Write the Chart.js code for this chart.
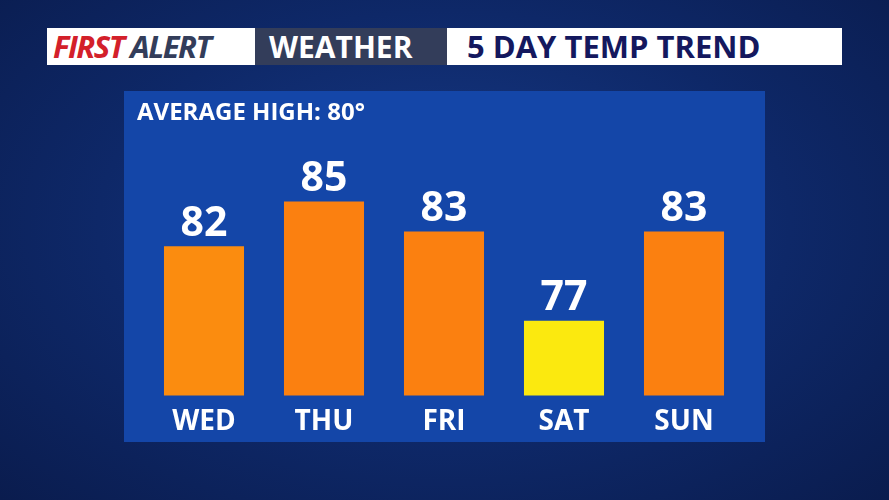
<!DOCTYPE html>
<html>
<head>
<meta charset="utf-8">
<script src="https://cdn.jsdelivr.net/npm/chart.js@4"></script>
<style>
  body { margin: 0; width: 889px; height: 500px; overflow: hidden; font-family: "Open Sans", sans-serif;
    background: radial-gradient(ellipse at 50% 45%, #173a88 0%, #0e2868 55%, #0a1c4e 100%); position: relative; }
  .hdr { position: absolute; top: 28px; height: 37px; font-weight: bold; font-size: 30px; line-height: 37px; box-sizing: border-box; white-space: nowrap; }
  #panel { position: absolute; left: 124px; top: 91px; width: 641px; height: 351px; background: #1446a8; }
  #avg { position: absolute; left: 137px; top: 94px; color: #fff; font-weight: bold; font-size: 24px; }
</style>
</head>
<body>
<div class="hdr" style="left:47px;width:208px;background:#fff;font-style:italic;letter-spacing:-1.5px;padding-left:6px;font-size:31px">
  <span style="color:#d3202a">FIRST</span><span style="color:#333d5a"> ALERT</span></div>
<div class="hdr" style="left:255px;width:192px;background:#333d5a;color:#fff;padding-left:14px">WEATHER</div>
<div class="hdr" style="left:447px;width:395px;background:#fff;color:#14185e;padding-left:20px;font-size:31px">5 DAY TEMP TREND</div>
<div id="panel"><canvas id="c" width="641" height="351"></canvas></div>
<div id="avg">AVERAGE HIGH: 80°</div>
<script>
const days = ['WED', 'THU', 'FRI', 'SAT', 'SUN'];
const highs = [82, 85, 83, 77, 83];
const barColors = ['#fb8c0f', '#fb8010', '#fb8010', '#fbe90f', '#fb8010'];

const valueLabels = {
  id: 'valueLabels',
  afterDatasetsDraw(chart) {
    const ctx = chart.ctx;
    ctx.save();
    ctx.fillStyle = '#fff';
    ctx.font = 'bold 41px "Open Sans"';
    ctx.textAlign = 'center';
    ctx.textBaseline = 'bottom';
    chart.getDatasetMeta(0).data.forEach((bar, i) => {
      ctx.fillText(highs[i], bar.x, bar.y - 2);
    });
    ctx.restore();
  }
};

new Chart(document.getElementById('c'), {
  type: 'bar',
  data: {
    labels: days,
    datasets: [{ data: highs, backgroundColor: barColors, barPercentage: 0.667, categoryPercentage: 1 }]
  },
  options: {
    responsive: false,
    animation: false,
    layout: { padding: { left: 20, right: 21, top: 51, bottom: 1 } },
    plugins: { legend: { display: false }, tooltip: { enabled: false } },
    scales: {
      y: { display: false, min: 72, max: 89 },
      x: {
        grid: { display: false }, border: { display: false },
        ticks: { color: '#fff', font: { family: 'Open Sans', weight: 'bold', size: 28 }, padding: 2 }
      }
    }
  },
  plugins: [valueLabels]
});
</script>
</body>
</html>
